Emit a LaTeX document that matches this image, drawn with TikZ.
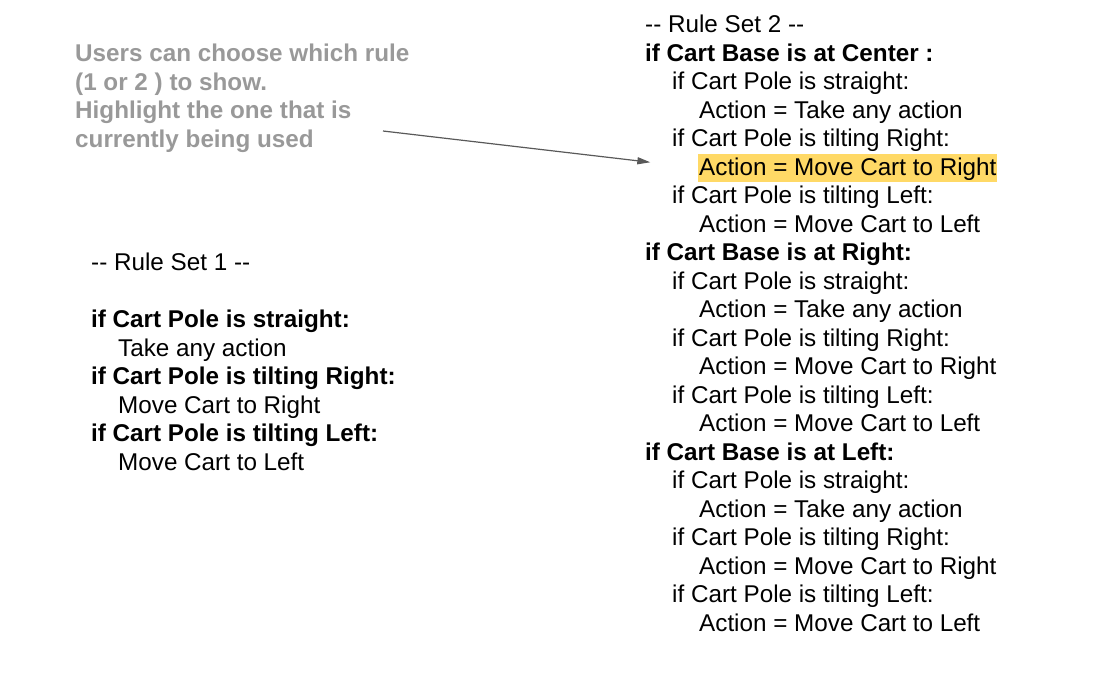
\documentclass[tikz,border=0pt]{standalone}
\usepackage{fontspec}
\setmainfont{Liberation Sans}
\usetikzlibrary{arrows.meta}

\definecolor{notegray}{RGB}{153,153,153}
\definecolor{hlyellow}{RGB}{255,217,102}
\definecolor{arrowgray}{RGB}{89,89,89}
\newcommand\rulefont{\fontsize{24.25}{28.5}\selectfont}

\begin{document}
\begin{tikzpicture}[x=1pt,y=-1pt,
    txt/.style={anchor=base west, inner sep=0pt, font=\rulefont},
    title/.style={txt},
    head/.style={txt, font=\rulefont\bfseries},
    cond/.style={txt, xshift=27pt},
    act/.style={txt, xshift=54pt},
    hl/.style={act, fill=hlyellow, inner xsep=1pt, xshift=-1pt,
        text height=21pt, text depth=6.5pt},
    note/.style={txt, font=\rulefont\bfseries, text=notegray},
    pointer/.style={draw=arrowgray, line width=1.2pt,
        -{Triangle[length=13pt,width=7pt]}}]
    \useasboundingbox (0,0) rectangle (1114,675);

    % Note for the user
    \foreach \i/\t in {0/{Users can choose which rule},
        1/{(1 or 2 ) to show.}, 2/{Highlight the one that is},
        3/{currently being used}}{
        \pgfmathsetmacro\y{61.5+28.52*\i}
        \node[note] (n\i) at (75,\y) {\t};
    }

    % Rule set 1
    \foreach \i/\s/\t in {0/title/{-{}- Rule Set 1 -{}-},
        2/head/{if Cart Pole is straight:}, 3/cond/{Take any action},
        4/head/{if Cart Pole is tilting Right:}, 5/cond/{Move Cart to Right},
        6/head/{if Cart Pole is tilting Left:}, 7/cond/{Move Cart to Left}}{
        \pgfmathsetmacro\y{270.5+28.52*\i}
        \node[\s] (r1-\i) at (91,\y) {\t};
    }

    % Rule set 2
    \foreach \i/\s/\t in {0/title/{-{}- Rule Set 2 -{}-},
        1/head/{if Cart Base is at Center :},
        2/cond/{if Cart Pole is straight:}, 3/act/{Action = Take any action},
        4/cond/{if Cart Pole is tilting Right:}, 5/hl/{Action = Move Cart to Right},
        6/cond/{if Cart Pole is tilting Left:}, 7/act/{Action = Move Cart to Left},
        8/head/{if Cart Base is at Right:},
        9/cond/{if Cart Pole is straight:}, 10/act/{Action = Take any action},
        11/cond/{if Cart Pole is tilting Right:}, 12/act/{Action = Move Cart to Right},
        13/cond/{if Cart Pole is tilting Left:}, 14/act/{Action = Move Cart to Left},
        15/head/{if Cart Base is at Left:},
        16/cond/{if Cart Pole is straight:}, 17/act/{Action = Take any action},
        18/cond/{if Cart Pole is tilting Right:}, 19/act/{Action = Move Cart to Right},
        20/cond/{if Cart Pole is tilting Left:}, 21/act/{Action = Move Cart to Left}}{
        \pgfmathsetmacro\y{32.5+28.52*\i}
        \node[\s] (r2-\i) at (645,\y) {\t};
    }

    % Pointer to the highlighted rule
    \coordinate (tail) at (383,131);
    \draw[pointer, shorten >=48pt] (tail) -- (r2-5.west);
\end{tikzpicture}
\end{document}
